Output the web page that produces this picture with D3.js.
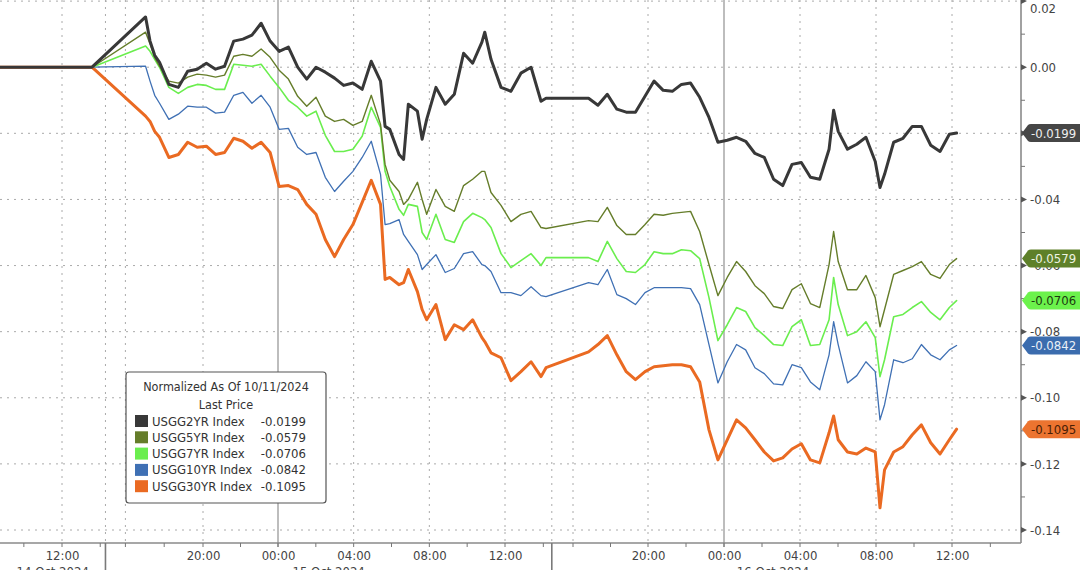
<!DOCTYPE html>
<html><head><meta charset="utf-8">
<script src="https://cdn.jsdelivr.net/npm/d3@7"></script>
<style>
html,body{margin:0;padding:0;background:#fff;}
svg{display:block;}
text{font-family:"DejaVu Sans Condensed","DejaVu Sans",sans-serif;}
</style></head><body>
<svg id="chart" width="1080" height="570"></svg>
<script>
// ---------------- DATA ----------------
const seriesNames = ["USGG2YR Index","USGG5YR Index","USGG7YR Index","USGG10YR Index","USGG30YR Index"];
const lastPrices = [-0.0199,-0.0579,-0.0706,-0.0842,-0.1095];
const legendTitle = "Normalized As Of 10/11/2024";
const legendSub = "Last Price";
const dayLabels = ["14 Oct 2024","15 Oct 2024","16 Oct 2024"];
const yTickValues = [0.02,0.00,-0.02,-0.04,-0.06,-0.08,-0.10,-0.12,-0.14];
const yHiddenLabels = [-0.02]; // fully covered by the last-price tag in the reference
const yMinorValues = [0.01,-0.01,-0.03,-0.05,-0.07,-0.09,-0.11,-0.13];
// hours since 14 Oct 2024 00:00
const labelHours = [12,20,24,28,32,36,44,48,52,56,60];
const dottedGridHours = [12,16,20,28,32,36,40,44,52,56,60];
const midnightHours = [24,48];
const sessionBreakHours = [14.6,38.6];

const hoursSince14Oct = [8.75,13.57,17.04,17.27,17.51,17.76,18.24,18.73,19.21,19.70,20.18,20.67,21.15,21.64,22.13,22.61,23.10,23.58,24.06,24.55,25.04,25.52,26.01,26.50,26.99,27.47,27.96,28.45,28.93,29.42,29.66,29.91,30.40,30.64,30.89,31.37,31.62,31.86,32.35,32.84,33.32,33.81,34.29,34.78,34.93,35.26,35.79,36.31,36.83,37.36,37.88,38.14,40.83,41.33,41.83,42.34,42.84,43.33,43.84,44.32,44.80,45.28,45.76,46.24,46.72,47.21,47.68,48.17,48.66,49.14,49.63,50.12,50.61,51.09,51.58,52.07,52.55,53.04,53.53,53.77,54.01,54.50,54.99,55.47,55.96,56.21,56.45,56.93,57.42,57.91,58.39,58.88,59.37,59.86,60.24];

const usgg2yr = [0,0,
0.0152,0.0079,0.0036,0.0015,-0.0052,-0.0061,-0.0012,-0.0006,0.0012,-0.0006,
0.0003,0.0079,0.0085,0.0097,0.0133,0.0079,0.0048,0.0061,0.0000,-0.0036,
0.0000,-0.0015,-0.0033,-0.0055,-0.0048,-0.0067,0.0018,-0.0042,-0.0179,-0.0188,
-0.0264,-0.0279,-0.0112,-0.0133,-0.0218,-0.0158,-0.0061,-0.0112,-0.0082,0.0042,
0.0012,0.0076,0.0106,0.0024,-0.0061,-0.0073,-0.0018,0.0000,-0.0103,-0.0094,
-0.0094,-0.0115,-0.0082,-0.0127,-0.0136,-0.0136,-0.0088,-0.0042,-0.0070,-0.0073,
-0.0052,-0.0048,-0.0091,-0.0152,-0.0227,-0.0221,-0.0212,-0.0224,-0.0261,-0.0273,
-0.0339,-0.0358,-0.0294,-0.0288,-0.0333,-0.0339,-0.0248,-0.0130,-0.0194,-0.0248,
-0.0233,-0.0212,-0.0285,-0.0364,-0.0324,-0.0227,-0.0215,-0.0179,-0.0179,-0.0236,
-0.0255,-0.0203,-0.0199];

const usgg5yr = [0,0,
0.0106,0.0070,0.0030,0.0003,-0.0042,-0.0048,-0.0030,-0.0021,-0.0024,-0.0030,
-0.0024,0.0033,0.0039,0.0033,0.0055,0.0030,-0.0009,-0.0036,-0.0088,-0.0118,
-0.0091,-0.0148,-0.0164,-0.0158,-0.0176,-0.0164,-0.0085,-0.0173,-0.0294,-0.0342,
-0.0376,-0.0415,-0.0400,-0.0348,-0.0400,-0.0445,-0.0370,-0.0421,-0.0436,-0.0358,
-0.0339,-0.0315,-0.0315,-0.0379,-0.0418,-0.0467,-0.0445,-0.0436,-0.0485,-0.0488,
-0.0464,-0.0467,-0.0424,-0.0479,-0.0506,-0.0506,-0.0476,-0.0445,-0.0448,-0.0442,
-0.0439,-0.0436,-0.0497,-0.0597,-0.0691,-0.0636,-0.0588,-0.0618,-0.0661,-0.0685,
-0.0724,-0.0730,-0.0673,-0.0655,-0.0715,-0.0727,-0.0597,-0.0497,-0.0588,-0.0673,
-0.0673,-0.0630,-0.0697,-0.0785,-0.0733,-0.0627,-0.0615,-0.0603,-0.0588,-0.0627,
-0.0639,-0.0597,-0.0579];

const usgg7yr = [0,0,
0.0064,0.0048,0.0024,0.0000,-0.0061,-0.0079,-0.0061,-0.0052,-0.0055,-0.0067,
-0.0067,0.0009,0.0006,0.0003,0.0009,-0.0027,-0.0061,-0.0100,-0.0121,-0.0148,
-0.0133,-0.0206,-0.0255,-0.0255,-0.0248,-0.0209,-0.0121,-0.0182,-0.0315,-0.0361,
-0.0430,-0.0448,-0.0415,-0.0421,-0.0500,-0.0521,-0.0445,-0.0521,-0.0530,-0.0467,
-0.0442,-0.0455,-0.0461,-0.0485,-0.0564,-0.0606,-0.0585,-0.0564,-0.0600,-0.0576,
-0.0576,-0.0588,-0.0527,-0.0579,-0.0618,-0.0621,-0.0597,-0.0558,-0.0564,-0.0564,
-0.0552,-0.0555,-0.0579,-0.0697,-0.0827,-0.0779,-0.0727,-0.0739,-0.0788,-0.0812,
-0.0839,-0.0842,-0.0785,-0.0764,-0.0842,-0.0839,-0.0764,-0.0636,-0.0718,-0.0812,
-0.0800,-0.0770,-0.0818,-0.0936,-0.0885,-0.0755,-0.0748,-0.0727,-0.0709,-0.0742,
-0.0764,-0.0727,-0.0706];

const usgg10yr = [0,0,
0.0003,-0.0042,-0.0085,-0.0109,-0.0158,-0.0142,-0.0118,-0.0121,-0.0121,-0.0139,
-0.0136,-0.0085,-0.0076,-0.0109,-0.0085,-0.0121,-0.0188,-0.0185,-0.0242,-0.0264,
-0.0258,-0.0333,-0.0376,-0.0345,-0.0315,-0.0273,-0.0224,-0.0324,-0.0476,-0.0473,
-0.0461,-0.0506,-0.0527,-0.0567,-0.0612,-0.0597,-0.0567,-0.0621,-0.0609,-0.0564,
-0.0558,-0.0597,-0.0600,-0.0618,-0.0682,-0.0682,-0.0691,-0.0664,-0.0691,-0.0694,
-0.0652,-0.0658,-0.0612,-0.0688,-0.0700,-0.0718,-0.0682,-0.0667,-0.0667,-0.0667,
-0.0667,-0.0670,-0.0718,-0.0839,-0.0955,-0.0891,-0.0839,-0.0855,-0.0909,-0.0927,
-0.0958,-0.0961,-0.0900,-0.0909,-0.0952,-0.0976,-0.0870,-0.0770,-0.0839,-0.0955,
-0.0933,-0.0891,-0.0921,-0.1067,-0.1021,-0.0885,-0.0894,-0.0882,-0.0839,-0.0870,
-0.0885,-0.0855,-0.0842];

const usgg30yr = [0,0,
-0.0148,-0.0164,-0.0194,-0.0212,-0.0273,-0.0264,-0.0227,-0.0242,-0.0239,-0.0264,
-0.0258,-0.0215,-0.0224,-0.0245,-0.0227,-0.0258,-0.0361,-0.0358,-0.0370,-0.0415,
-0.0445,-0.0521,-0.0573,-0.0521,-0.0476,-0.0409,-0.0342,-0.0415,-0.0642,-0.0636,
-0.0658,-0.0652,-0.0612,-0.0679,-0.0733,-0.0764,-0.0718,-0.0824,-0.0779,-0.0794,
-0.0764,-0.0818,-0.0830,-0.0864,-0.0879,-0.0948,-0.0921,-0.0891,-0.0936,-0.0909,
-0.0861,-0.0839,-0.0812,-0.0870,-0.0921,-0.0945,-0.0921,-0.0906,-0.0903,-0.0900,
-0.0900,-0.0906,-0.0952,-0.1097,-0.1188,-0.1127,-0.1067,-0.1091,-0.1127,-0.1164,
-0.1191,-0.1182,-0.1155,-0.1139,-0.1188,-0.1197,-0.1106,-0.1055,-0.1127,-0.1164,
-0.1170,-0.1152,-0.1164,-0.1333,-0.1218,-0.1164,-0.1148,-0.1112,-0.1082,-0.1136,
-0.1170,-0.1127,-0.1095];

// ---------------- STYLE ----------------
const lineColors = ["#383838","#657d2a","#6aee4e","#3f70b4","#ea6a22"];
const lineWidths = [3,1.4,1.6,1.3,3];
const pillFill = ["#464646","#5e8029","#6cf24c","#3b6cae","#ec7430"];
const pillText = ["#eeeeee","#eef4e2","#1d3a10","#eaf0f8","#4a1e05"];

// ---------------- LAYOUT ----------------
const plotRight = 1021, axisY = 543;
const base = new Date(2024, 9, 14, 0, 0);
const toDate = h => new Date(base.getTime() + h * 3600000);
const anchorHours = [8.75,12,14.25,15,20,24,36,38.4,38.9,40,44,48,60,63.6];
const anchorPx    = [0,62,105,106,203,278,505,551,553,573,648,724,952,1021];
const x = d3.scaleTime().domain(anchorHours.map(toDate)).range(anchorPx);
const y = d3.scaleLinear().domain([-0.14,0.02]).range([530,1.1]);

const svg = d3.select("#chart");
svg.append("rect").attr("width",1080).attr("height",570).attr("fill","#fff");

// grid horizontal
svg.append("g").selectAll("line").data(yTickValues).join("line")
  .attr("x1",0).attr("x2",plotRight).attr("y1",d=>y(d)).attr("y2",d=>y(d))
  .attr("stroke","#aaaaaa").attr("stroke-width",1).attr("stroke-dasharray","2,5");
// grid vertical dotted
svg.append("g").selectAll("line").data(dottedGridHours.concat(sessionBreakHours)).join("line")
  .attr("x1",d=>x(toDate(d))).attr("x2",d=>x(toDate(d))).attr("y1",0).attr("y2",axisY)
  .attr("stroke","#aaaaaa").attr("stroke-width",1).attr("stroke-dasharray","2,5");
// midnight solid
svg.append("g").selectAll("line").data(midnightHours).join("line")
  .attr("x1",d=>x(toDate(d))).attr("x2",d=>x(toDate(d))).attr("y1",0).attr("y2",axisY+4)
  .attr("stroke","#9a9a9a").attr("stroke-width",1.3);

// series lines
const series = [usgg2yr,usgg5yr,usgg7yr,usgg10yr,usgg30yr].map((vals,i)=>({
  name: seriesNames[i], i,
  pts: vals.map((v,k)=>({t: toDate(hoursSince14Oct[k]), v}))
}));
const line = d3.line().x(d=>x(d.t)).y(d=>y(d.v));
svg.append("g").selectAll("path").data(series.slice().reverse()).join("path")
  .attr("d",d=>line(d.pts)).attr("fill","none")
  .attr("stroke",d=>lineColors[d.i]).attr("stroke-width",d=>lineWidths[d.i])
  .attr("stroke-linejoin","round").attr("stroke-linecap","round");

// bottom axis
const xAxis = d3.axisBottom(x).tickValues(labelHours.map(toDate))
  .tickFormat(d3.timeFormat("%H:%M")).tickSize(0).tickPadding(8);
const gx = svg.append("g").attr("transform",`translate(0,${axisY})`).call(xAxis);
gx.select(".domain").remove();
gx.selectAll("text").attr("font-size",13).attr("fill","#444")
  .attr("font-family",'"DejaVu Sans Condensed","DejaVu Sans",sans-serif');
svg.append("line").attr("x1",0).attr("x2",plotRight).attr("y1",axisY).attr("y2",axisY)
  .attr("stroke","#8a8a8a").attr("stroke-width",1.6);
// small ticks every 2h
svg.append("g").selectAll("line").data(d3.range(10,63,2)).join("line")
  .attr("x1",d=>x(toDate(d))).attr("x2",d=>x(toDate(d))).attr("y1",axisY).attr("y2",axisY+4)
  .attr("stroke","#777").attr("stroke-width",1);
// session separators below axis
svg.append("g").selectAll("line").data(sessionBreakHours).join("line")
  .attr("x1",d=>x(toDate(d))).attr("x2",d=>x(toDate(d))).attr("y1",axisY).attr("y2",570)
  .attr("stroke","#7a7a7a").attr("stroke-width",1.6);
// day labels
const dayBounds = [[8.75,14.6],[14.6,38.6],[38.6,62.2]];
svg.append("g").selectAll("text").data(dayLabels).join("text")
  .attr("x",(d,i)=>(x(toDate(dayBounds[i][0]))+x(toDate(dayBounds[i][1])))/2)
  .attr("y",576).attr("text-anchor","middle").attr("font-size",13).attr("fill","#444")
  .text(d=>d);

// right axis
svg.append("line").attr("x1",plotRight).attr("x2",plotRight).attr("y1",0).attr("y2",axisY)
  .attr("stroke","#8a8a8a").attr("stroke-width",1.6);
const yAxis = d3.axisRight(y).tickValues(yTickValues.filter(v=>!yHiddenLabels.includes(v)))
  .tickFormat(d3.format(".2f")).tickSize(0).tickPadding(9);
const gy = svg.append("g").attr("transform",`translate(${plotRight},0)`).call(yAxis);
gy.select(".domain").remove();
gy.selectAll("text").attr("font-size",13).attr("fill","#444")
  .attr("font-family",'"DejaVu Sans Condensed","DejaVu Sans",sans-serif')
  .attr("dy",d=>d>=0.02?"0.9em":"0.32em")
  .text(d=>d3.format(".2f")(d).replace("−","-"));
svg.append("g").selectAll("path").data(yTickValues).join("path")
  .attr("d",d=>`M${plotRight},${y(d)-3}L${plotRight+6},${y(d)}L${plotRight},${y(d)+3}Z`)
  .attr("fill","#555");
svg.append("g").selectAll("line").data(yMinorValues).join("line")
  .attr("x1",plotRight).attr("x2",plotRight+4).attr("y1",d=>y(d)).attr("y2",d=>y(d))
  .attr("stroke","#777").attr("stroke-width",1);

// last price pills
const pills = svg.append("g").selectAll("g").data(lastPrices).join("g")
  .attr("transform",d=>`translate(${plotRight+1},${y(d)})`);
pills.append("path")
  .attr("d","M0,0 L6,-8 Q7,-9 9,-9 L70,-9 L70,9 L9,9 Q7,9 6,8 Z")
  .attr("fill",(d,i)=>pillFill[i]);
pills.append("text").attr("x",9).attr("dy","0.35em").attr("font-size",13)
  .attr("fill",(d,i)=>pillText[i]).text(d=>d.toFixed(4));

// legend
const lg = svg.append("g");
lg.append("rect").attr("x",126).attr("y",372).attr("width",200).attr("height",131)
  .attr("rx",3).attr("fill","#fff").attr("stroke","#555").attr("stroke-width",1.2);
lg.append("text").attr("x",226).attr("y",391).attr("text-anchor","middle")
  .attr("font-size",12.5).attr("fill","#333").text(legendTitle);
lg.append("text").attr("x",226).attr("y",409).attr("text-anchor","middle")
  .attr("font-size",12.5).attr("fill","#333").text(legendSub);
const rows = lg.selectAll("g.row").data(seriesNames).join("g").attr("class","row")
  .attr("transform",(d,i)=>`translate(0,${421+i*16.3})`);
rows.append("rect").attr("x",135).attr("y",-6).attr("width",13).attr("height",12)
  .attr("fill",(d,i)=>lineColors[i]);
rows.append("text").attr("x",152).attr("dy","0.35em").attr("font-size",13).attr("fill","#333").text(d=>d);
rows.append("text").attr("x",306).attr("dy","0.35em").attr("text-anchor","end")
  .attr("font-size",13).attr("fill","#333").text((d,i)=>lastPrices[i].toFixed(4));
</script>
</body></html>
